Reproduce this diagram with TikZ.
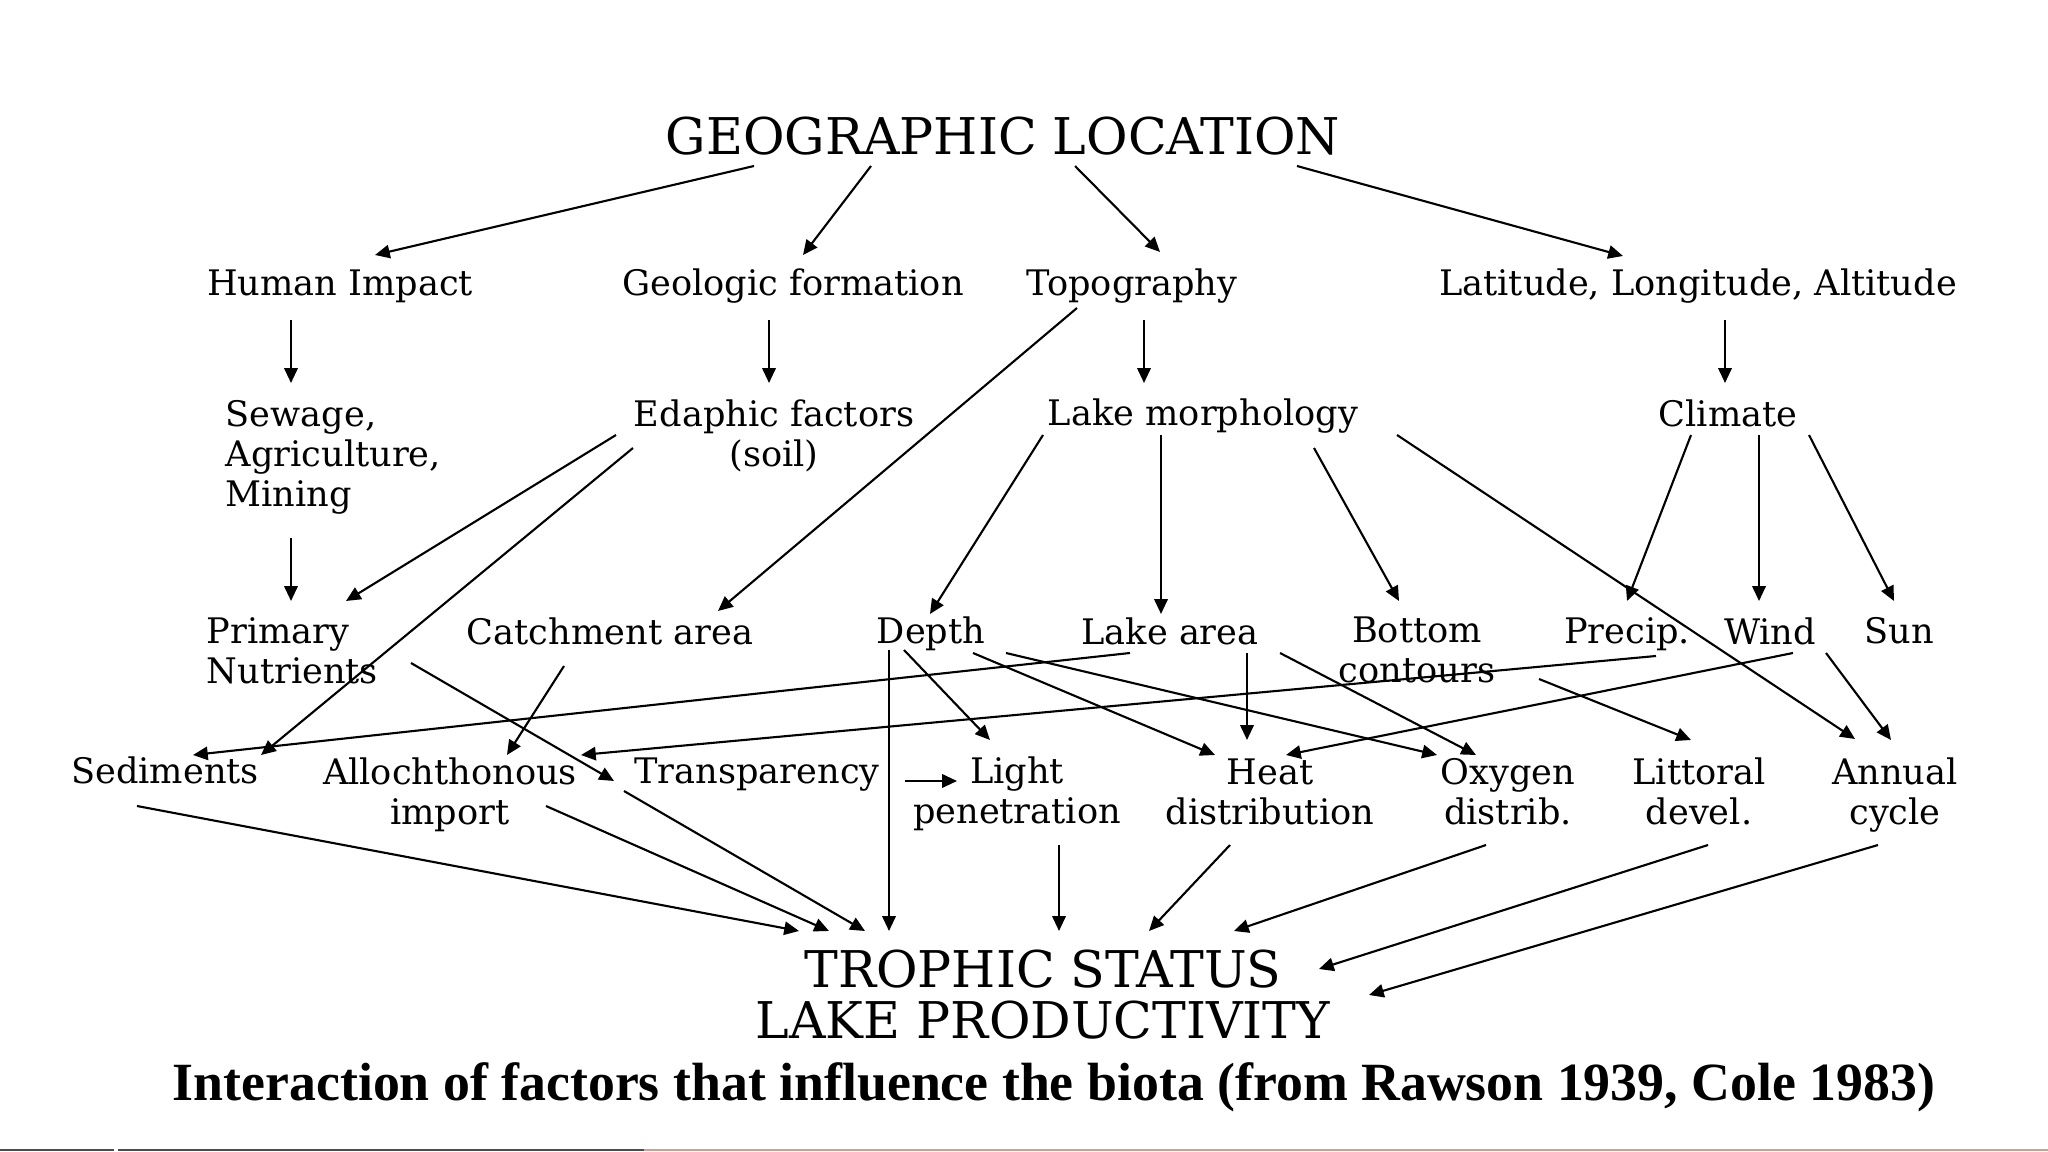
\documentclass[tikz,border=0pt]{standalone}
\usepackage{fontspec}
\setmainfont{DejaVu Serif}
\newfontfamily\capfont{Liberation Serif}
\usetikzlibrary{arrows.meta,calc}
\newcommand\conn[6]{\draw[arr] ($(#1)+(#2,#3)$) -- ($(#4)+(#5,#6)$);}
\definecolor{rosy}{RGB}{205,160,150}
\begin{document}
\begin{tikzpicture}[x=0.01cm,y=-0.01cm,
  lbl/.style={font=\fontsize{10}{11.4}\selectfont, inner sep=0pt, align=center},
  big/.style={font=\fontsize{14.4}{14.5}\selectfont, inner sep=0pt, align=center},
  arr/.style={line width=0.6pt, -{Triangle[length=4.2pt,width=3.8pt]}}]
\useasboundingbox (0,0) rectangle (2048,1152);
% nodes
\node[big] (geo) at (1003,136) {GEOGRAPHIC LOCATION};
\node[lbl] (human) at (340,286) {Human Impact};
\node[lbl] (geol) at (793,286) {Geologic formation};
\node[lbl] (topo) at (1132,286) {Topography};
\node[lbl] (lat) at (1698,286) {Latitude, Longitude, Altitude};
\node[lbl,anchor=west,align=left] (sew) at (225,457) {Sewage,\\Agriculture,\\Mining};
\node[lbl] (edaph) at (774,436) {Edaphic factors\\(soil)};
\node[lbl] (lakem) at (1203,416) {Lake morphology};
\node[lbl] (clim) at (1728,413) {Climate};
\node[lbl,anchor=west,align=left] (prim) at (206,651) {Primary\\Nutrients};
\node[lbl] (catch) at (610,631) {Catchment area};
\node[lbl] (depth) at (931,634) {Depth};
\node[lbl] (larea) at (1170,631) {Lake area};
\node[lbl] (bottom) at (1417,650) {Bottom\\contours};
\node[lbl] (precip) at (1627,634) {Precip.};
\node[lbl] (wind) at (1770,631) {Wind};
\node[lbl] (sun) at (1899,631) {Sun};
\node[lbl] (sed) at (165,770) {Sediments};
\node[lbl] (alloch) at (450,795) {Allochthonous\\import};
\node[lbl] (transp) at (757,775) {Transparency};
\node[lbl] (light) at (1017,794) {Light\\penetration};
\node[lbl] (heat) at (1270,792) {Heat\\distribution};
\node[lbl] (oxy) at (1508,792) {Oxygen\\distrib.};
\node[lbl] (litt) at (1699,791) {Littoral\\devel.};
\node[lbl] (annual) at (1895,795) {Annual\\cycle};
\node[big] (troph) at (1043,995) {TROPHIC STATUS\\LAKE PRODUCTIVITY};
\node[inner sep=0pt,font=\capfont\bfseries\fontsize{15.3}{17}\selectfont] (cap) at (1054,1087)
  {Interaction of factors that influence the biota (from Rawson 1939, Cole 1983)};
% connectors
\conn{geo}{-249}{30}{human}{35}{-31}
\conn{geo}{-132}{30}{geol}{10}{-31}
\conn{geo}{72}{30}{topo}{28}{-34}
\conn{geo}{294}{30}{lat}{-75}{-30}
\conn{human}{-49}{34}{sew.west}{66}{-74}
\conn{geol}{-24}{34}{edaph}{-5}{-53}
\conn{topo}{12}{34}{lakem}{-59}{-33}
\conn{lat}{27}{34}{clim}{-3}{-30}
\conn{sew.west}{66}{81}{prim.west}{85}{-50}
\conn{edaph}{-158}{-1}{prim.west}{140}{-50}
\conn{edaph}{-141}{12}{sed}{96}{-15}
\conn{topo}{-55}{22}{catch}{108}{-20}
\conn{lakem}{-160}{19}{depth}{-1}{-20}
\conn{lakem}{-42}{19}{larea}{-9}{-17}
\conn{lakem}{111}{32}{bottom}{-18}{-49}
\conn{lakem}{194}{19}{annual}{-40}{-56}
\conn{clim}{-37}{22}{precip}{0}{-33}
\conn{clim}{31}{22}{wind}{-11}{-30}
\conn{clim}{81}{22}{sun}{-5}{-30}
\conn{prim.west}{205}{12}{transp}{-143}{6}
\conn{catch}{-46}{35}{alloch}{57}{-40}
\conn{larea}{-40}{22}{sed}{28}{-15}
\conn{precip}{29}{22}{alloch}{131}{-40}
\conn{wind}{23}{22}{heat}{16}{-37}
\conn{depth}{-27}{16}{light}{-27}{-54}
\conn{transp}{148}{6}{light}{-60}{-13}
\conn{depth}{42}{19}{heat}{-55}{-37}
\conn{depth}{75}{19}{oxy}{-71}{-37}
\conn{larea}{77}{22}{heat}{-23}{-52}
\conn{larea}{110}{22}{oxy}{-32}{-37}
\conn{bottom}{122}{29}{litt}{-8}{-51}
\conn{sun}{-73}{22}{annual}{-4}{-55}
\conn{depth}{-42}{16}{troph}{-154}{-64}
\conn{light}{42}{51}{troph}{16}{-64}
\conn{heat}{-40}{53}{troph}{106}{-64}
\conn{oxy}{-22}{53}{troph}{191}{-64}
\conn{litt}{9}{54}{troph}{276}{-26}
\conn{annual}{-17}{50}{troph}{326}{0}
\conn{sed}{-28}{36}{troph}{-244}{-64}
\conn{alloch}{96}{11}{troph}{-214}{-64}
\conn{transp}{-133}{16}{troph}{-178}{-64}
% bottom border strip
\draw[line width=0.7pt, black!70] (0,1150) -- (114,1150);
\draw[line width=0.7pt, black!70] (118,1150) -- (644,1150);
\draw[line width=0.7pt, rosy] (644,1150) -- (2048,1150);
\end{tikzpicture}
\end{document}
